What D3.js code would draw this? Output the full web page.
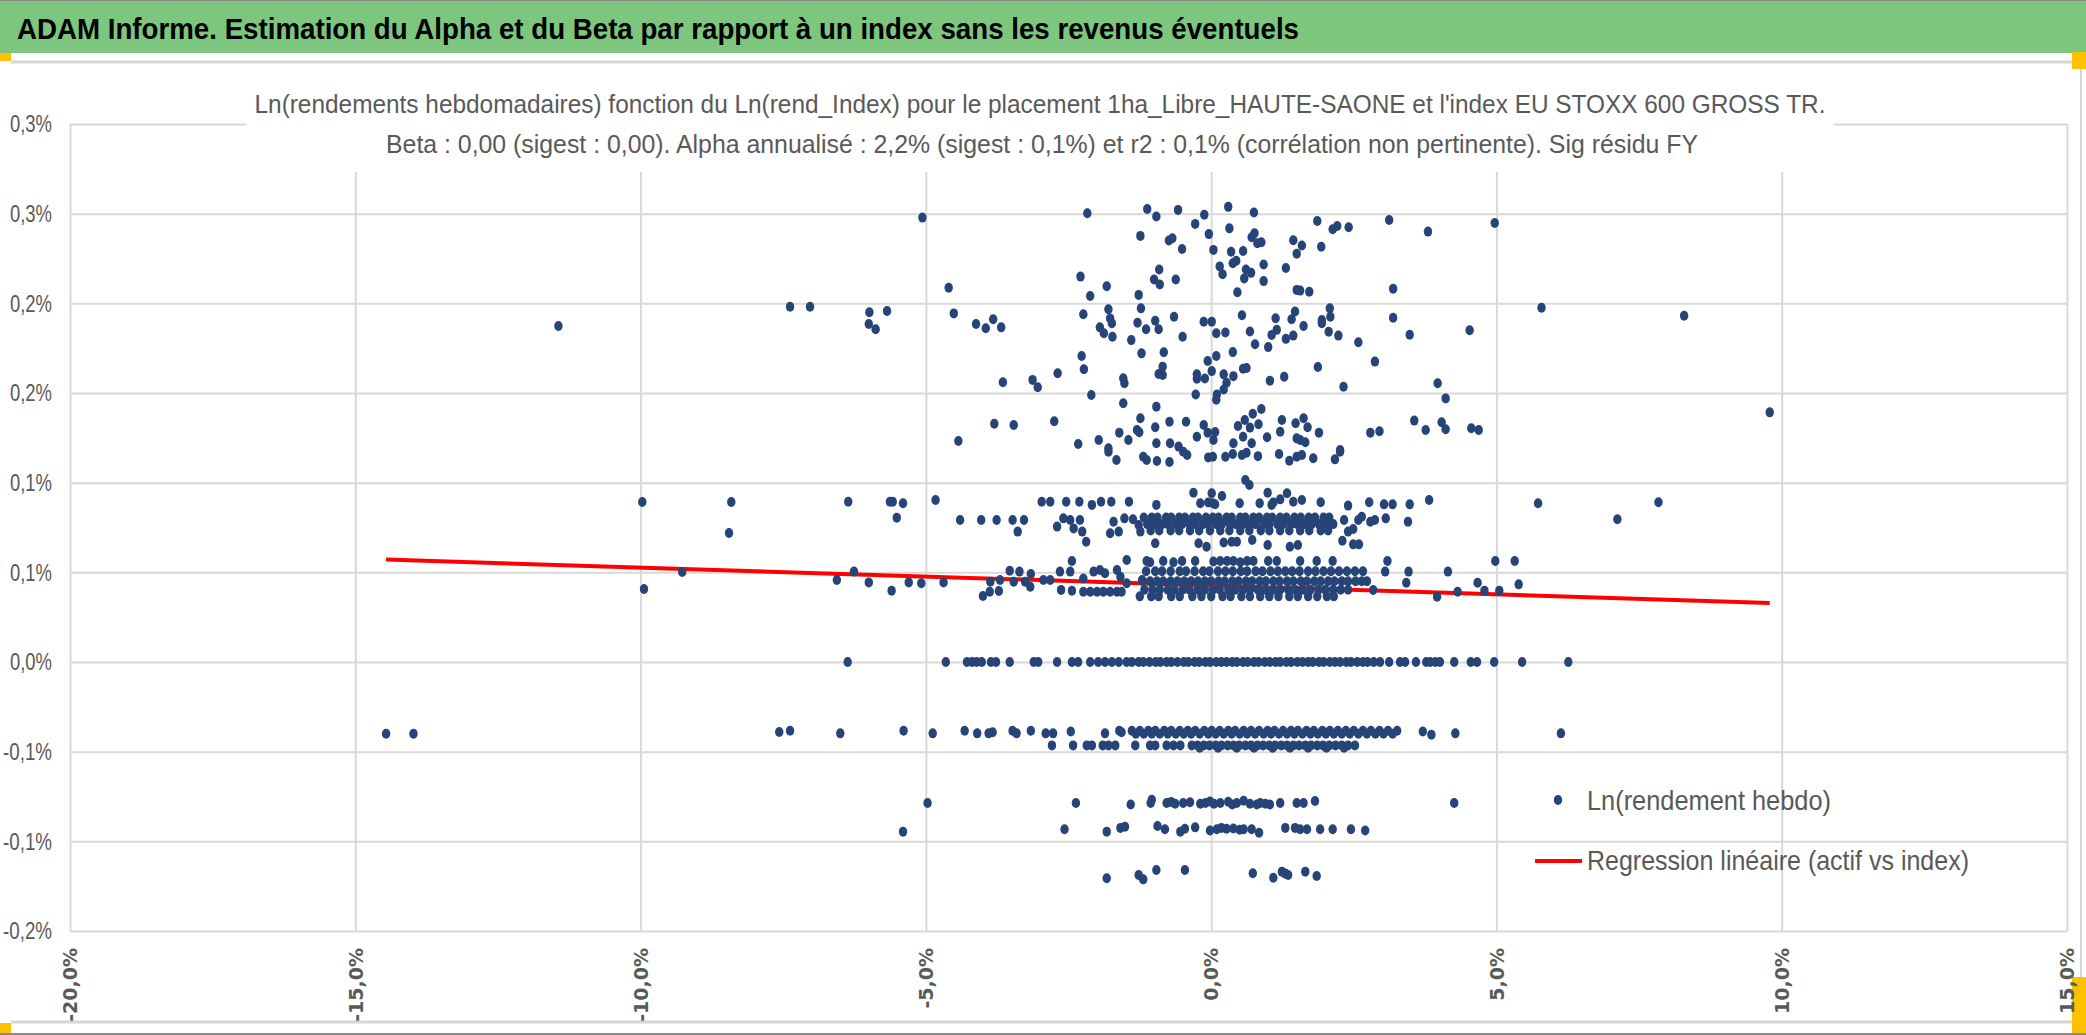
<!DOCTYPE html>
<html>
<head>
<meta charset="utf-8">
<script src="https://cdnjs.cloudflare.com/ajax/libs/d3/7.8.5/d3.min.js"></script>
<style>
  body { margin: 0; background: #fff; }
  svg { display: block; }
</style>
</head>
<body>
<svg id="adam_chart" width="2086" height="1035"></svg>
<script>
// axis ticks (values in %)
const xTickValues = [-20, -15, -10, -5, 0, 5, 10, 15];
const xTickLabels = ["-20,0%", "-15,0%", "-10,0%", "-5,0%", "0,0%", "5,0%", "10,0%", "15,0%"];
const yTickValues = [-0.15, -0.10, -0.05, 0, 0.05, 0.10, 0.15, 0.20, 0.25, 0.30];
const yTickLabels = ["-0,2%", "-0,1%", "-0,1%", "0,0%", "0,1%", "0,1%", "0,2%", "0,2%", "0,3%", "0,3%"];

const headerTitle = "ADAM Informe. Estimation du Alpha et du Beta par rapport à un index sans les revenus éventuels";
const chartTitle1 = "Ln(rendements hebdomadaires) fonction du Ln(rend_Index) pour le placement 1ha_Libre_HAUTE-SAONE et l'index EU STOXX 600 GROSS TR.";
const chartTitle2 = "Beta : 0,00 (sigest : 0,00). Alpha annualisé : 2,2% (sigest : 0,1%) et r2 : 0,1% (corrélation non pertinente). Sig résidu FY";
const legendLabels = ["Ln(rendement hebdo)", "Regression linéaire (actif vs index)"];

// regression line end points [index %, asset %]
const regressionLine = [[-14.46, 0.0571], [9.79, 0.0329]];

// scattered points above 0.1 %
const upperScatter = [
  [-11.44,0.1874],[-7.38,0.1981],[-7.03,0.1981],[-5.06,0.2478],
  [-5.99,0.1950],[-5.68,0.1957],[-6.00,0.1885],[-5.88,0.1855],
  [-4.60,0.2087],[-4.51,0.1944],[-4.12,0.1885],[-3.95,0.1861],[-3.82,0.1911],[-3.68,0.1866],
  [-3.65,0.1560],[-3.13,0.1573],[-3.04,0.1532],[-2.69,0.1610],
  [-3.80,0.1329],[-3.46,0.1322],[-2.75,0.1342],[-4.43,0.1232],
  [-2.17,0.2502],[-2.29,0.2149],[-2.12,0.2041],[-2.24,0.1939],
  [-2.27,0.1706],[-2.23,0.1632],[-2.10,0.1489],[-2.33,0.1216],
  [-1.83,0.2095],[-1.80,0.1967],[-1.77,0.1916],[-1.74,0.1889],[-1.95,0.1866],[-1.88,0.1833],[-1.73,0.1814],
  [-1.12,0.2526],[-0.96,0.2484],[-0.58,0.2521],[-1.24,0.2376],
  [-0.74,0.2350],[-0.68,0.2363],[-0.51,0.2303],
  [-0.28,0.2443],[-0.12,0.2494],[-0.04,0.2386],[0.04,0.2298],
  [0.30,0.2538],[0.32,0.2418],[0.75,0.2507],
  [0.35,0.2288],[0.56,0.2292],[0.71,0.2368],[0.76,0.2391],[0.81,0.2335],[0.88,0.2341],
  [1.44,0.2352],[1.50,0.2277],
  [0.15,0.2206],[0.20,0.2162],[0.38,0.2224],[0.44,0.2237],
  [0.58,0.2139],[0.61,0.2189],[0.70,0.2170],[0.92,0.2217],[0.92,0.2124],[0.46,0.2062],
  [1.31,0.2197],[1.50,0.2075],
  [-0.91,0.2189],[-1.00,0.2133],[-0.90,0.2105],[-0.62,0.2133],
  [-1.27,0.2047],[-1.23,0.1972],[-1.29,0.1892],[-1.14,0.1855],[-0.98,0.1903],[-0.92,0.1855],[-0.65,0.1925],[-0.50,0.1814],[-1.40,0.1795],
  [-1.22,0.1721],[-0.83,0.1727],[-0.85,0.1647],[-0.92,0.1606],[-0.85,0.1600],
  [-0.25,0.1604],[-0.25,0.1579],[-0.11,0.1581],[0.01,0.1622],[-0.06,0.1678],[0.09,0.1706],[0.22,0.1604],[0.27,0.1557],
  [0.39,0.1594],[0.22,0.1520],[0.10,0.1492],[-0.27,0.1492],[0.38,0.1728],[0.56,0.1635],[0.62,0.1639],
  [-0.13,0.1898],[0.01,0.1898],[0.09,0.1833],[0.25,0.1837],[0.54,0.1934],[0.68,0.1843],[0.77,0.1772],[1.00,0.1756],
  [1.06,0.1824],[1.15,0.1852],[1.31,0.1802],[1.44,0.1820],[1.13,0.1917],[1.41,0.1911],[1.47,0.1954],
  [1.03,0.1569],[1.28,0.1591],[-0.96,0.1424],[-1.54,0.1443],[-1.24,0.1359],[-1.54,0.1582],[-1.52,0.1554],
  [0.09,0.1462],[0.73,0.1384],[0.88,0.1411],
  [-1.61,0.1279],[-1.45,0.1238],[-1.30,0.1294],[-1.26,0.1281],[-0.98,0.1309],[-0.73,0.1340],[-0.44,0.1340],[-0.13,0.1322],
  [-0.06,0.1279],[0.07,0.1283],[0.47,0.1316],[0.59,0.1349],[0.68,0.1307],[0.83,0.1326],[0.98,0.1253],[1.24,0.1349],
  [1.21,0.1284],[1.48,0.1331],[-1.97,0.1238],[-1.80,0.1192],[-0.96,0.1220],[-0.72,0.1220],[-0.57,0.1201],[-0.25,0.1256],
  [0.04,0.1238],[0.39,0.1220],[0.56,0.1256],[0.71,0.1220],[1.50,0.1247],
  [1.86,0.2459],[2.13,0.2413],[2.21,0.2431],[2.41,0.2424],[3.12,0.2465],[3.80,0.2400],[4.97,0.2448],
  [1.59,0.2322],[1.93,0.2316],[1.56,0.2071],[1.72,0.2065],[3.19,0.2082],
  [2.08,0.1972],[2.09,0.1925],[1.94,0.1907],[1.94,0.1889],[1.62,0.1874],[2.06,0.1842],[2.23,0.1820],
  [3.19,0.1920],[2.58,0.1783],[3.48,0.1825],[4.53,0.1850],[5.79,0.1975],[8.29,0.1931],[9.79,0.1392],
  [1.87,0.1645],[2.87,0.1675],[2.32,0.1535],[3.97,0.1554],[4.11,0.1470],
  [1.62,0.1359],[1.69,0.1309],[1.89,0.1279],[2.79,0.1279],[2.95,0.1287],[3.56,0.1346],[3.76,0.1294],[4.04,0.1337],
  [4.11,0.1298],[4.56,0.1303],[4.69,0.1294],[1.56,0.1238],[1.65,0.1225],[2.26,0.1182],
  [-1.80,0.1173],[-1.66,0.1126],[-1.19,0.1145],[-1.13,0.1126],[-0.95,0.1121],[-0.73,0.1115],[-0.49,0.1173],[-0.42,0.1154],
  [-0.05,0.1141],[0.03,0.1145],[0.25,0.1145],[0.38,0.1160],[0.54,0.1154],[0.62,0.1167],[0.82,0.1148],[1.19,0.1160],
  [1.37,0.1122],[1.50,0.1145],[1.79,0.1136],[2.17,0.1130],[2.26,0.1173],[1.59,0.1154],
  [0.60,0.1015],[0.67,0.0987]
];

// points around 0.09 %
const band09Scatter = [
  [-9.97,0.0892],[-8.41,0.0892],[-8.45,0.0719],
  [-6.36,0.0894],[-5.63,0.0894],[-5.58,0.0894],[-5.40,0.0885],[-4.83,0.0903],[-5.51,0.0805],
  [-2.97,0.0894],[-2.82,0.0894],[-2.54,0.0894],[-2.31,0.0894],[-2.09,0.0876],[-1.93,0.0894],[-1.75,0.0894],
  [-1.44,0.0894],[-0.96,0.0876],[-0.31,0.0944],[-0.19,0.0885],[-0.05,0.0890],[0.01,0.0941],[0.03,0.0885],[0.07,0.0880],
  [0.19,0.0926],[0.50,0.0885],[0.85,0.0885],[0.99,0.0944],[1.06,0.0876],[1.09,0.0890],[1.21,0.0907],[1.33,0.0941],[1.44,0.0894],
  [1.59,0.0903],[1.92,0.0891],[2.40,0.0872],[2.77,0.0891],[3.03,0.0879],[3.18,0.0879],[3.48,0.0879],[3.82,0.0903],
  [5.73,0.0885],[7.84,0.0891],[7.12,0.0796]
];

// sparse points of the 0.08 % band
const band08Scatter = [
  [-4.40,0.0792],[-4.03,0.0792],[-3.76,0.0792],[-3.48,0.0792],[-3.28,0.0792],[-3.39,0.0727],
  [-2.70,0.0755],[-2.59,0.0801],[-2.47,0.0792],[-2.41,0.0745],[-2.30,0.0792],[-2.26,0.0727],[-2.19,0.0671],
  [-1.77,0.0718],[-1.71,0.0782],[-1.62,0.0727],[-1.52,0.0801],[-1.37,0.0796],[-1.27,0.0764],[-1.24,0.0727],
  [2.33,0.0792],[2.40,0.0727],[2.49,0.0742],[2.58,0.0792],[2.64,0.0810],[2.79,0.0782],[2.87,0.0792],[3.06,0.0801],[3.45,0.0782]
];
// dense 0.08 % band, three sub rows
const band08aX = [-1.18,-1.04,-0.94,-0.79,-0.70,-0.56,-0.46,-0.32,-0.23,-0.09,0.03,0.13,0.27,0.36,0.51,0.60,0.74,0.84,0.98,1.07,1.21,1.32,1.46,1.57,1.71,1.82,1.97,2.07];
const band08bX = [-1.12,-0.99,-0.86,-0.76,-0.62,-0.51,-0.38,-0.28,-0.14,-0.04,0.09,0.19,0.33,0.43,0.56,0.68,0.78,0.92,1.02,1.16,1.26,1.40,1.51,1.64,1.76,1.89,2.02,2.14];
const band08cX = [-1.06,-0.91,-0.71,-0.56,-0.37,-0.21,-0.02,0.16,0.32,0.51,0.67,0.87,1.02,1.21,1.37,1.56,1.72,1.92,2.05];

// rows near 0.066 % and 0.056 %
const row066 = [[-0.98,0.0662],[-0.22,0.0662],[-0.08,0.0643],[0.22,0.0666],[0.36,0.0671],[0.45,0.0671],[0.72,0.0680],[0.99,0.0652],
  [1.38,0.0643],[1.52,0.0652],[2.30,0.0676],[2.49,0.0656],[2.59,0.0656]];
const row056 = [[-2.44,0.0563],[-1.48,0.0569],[-1.13,0.0563],[-1.07,0.0556],[-0.84,0.0563],[-0.66,0.0556],[-0.51,0.0563],[-0.28,0.0563],
  [0.04,0.0560],[0.16,0.0563],[0.28,0.0563],[0.39,0.0563],[0.51,0.0556],[0.63,0.0563],[0.74,0.0563],[1.00,0.0563],[1.15,0.0563],
  [1.56,0.0563],[1.85,0.0563],[2.13,0.0563],[3.09,0.0563],[4.98,0.0563],[5.32,0.0563]];

// sparse points of the 0.05 % band
const band05Scatter = [
  [-9.27,0.0502],[-9.94,0.0407],[-6.56,0.0457],[-6.26,0.0504],[-6.00,0.0444],[-5.60,0.0398],[-5.30,0.0444],[-5.08,0.0439],[-4.69,0.0444],
  [-4.00,0.0368],[-3.88,0.0392],[-3.72,0.0396],[-3.87,0.0448],[-3.70,0.0457],[-3.53,0.0509],[-3.46,0.0448],[-3.36,0.0504],
  [-3.26,0.0448],[-3.16,0.0491],[-3.17,0.0420],[-2.94,0.0457],[-2.82,0.0457],[-2.65,0.0504],[-2.63,0.0402],[-2.47,0.0504],
  [-2.44,0.0398],[-2.24,0.0466],[-2.06,0.0504],[-1.95,0.0513],[-1.86,0.0495],[-1.65,0.0513],[-1.59,0.0476],[-1.48,0.0439],
  [-1.21,0.0457],[-2.24,0.0392],[-2.12,0.0392],[-2.00,0.0392],[-1.89,0.0392],[-1.77,0.0392],[-1.65,0.0392],[-1.57,0.0392],
  [2.84,0.0401],[3.05,0.0504],[3.42,0.0442],[3.46,0.0504],[3.96,0.0364],[4.15,0.0504],[4.32,0.0392],[4.67,0.0442],
  [4.79,0.0398],[5.05,0.0398],[5.39,0.0433]
];
// dense 0.05 % band, four sub rows
const band05aX = [-1.14,-0.98,-0.86,-0.71,-0.55,-0.44,-0.29,-0.14,-0.03,0.12,0.25,0.38,0.52,0.63,0.78,0.90,1.04,1.17,1.30,1.42,1.55,1.70,1.83,1.97,2.10,2.24,2.38,2.52,2.66];
const band05bX = [-1.20,-1.07,-0.95,-0.84,-0.71,-0.59,-0.47,-0.35,-0.23,-0.11,0.00,0.13,0.24,0.37,0.48,0.61,0.72,0.85,0.96,1.09,1.20,1.33,1.44,1.57,1.68,1.81,1.92,2.05,2.16,2.29,2.40,2.53,2.64,2.73];
const band05cX = [-1.17,-1.03,-0.90,-0.76,-0.64,-0.50,-0.38,-0.24,-0.11,0.03,0.15,0.30,0.42,0.56,0.68,0.82,0.95,1.09,1.21,1.35,1.47,1.61,1.74,1.88,2.00,2.14,2.27,2.40];
const band05dX = [-1.25,-1.05,-0.92,-0.70,-0.55,-0.33,-0.17,0.00,0.20,0.34,0.53,0.68,0.86,1.02,1.18,1.37,1.52,1.70,1.86,2.03,2.15];

// row at 0 %
const row0X = [-6.37,-4.65,-4.28,-4.19,-4.11,-4.02,-3.86,-3.77,-3.53,-3.11,-3.03,-2.70,-2.44,-2.33,-2.12,-1.98,-1.86,-1.74,-1.62,
  -1.48,-1.39,-1.27,-1.19,-1.08,-0.97,-0.89,-0.78,-0.70,-0.59,-0.48,-0.40,-0.29,-0.21,-0.10,-0.02,0.09,0.18,0.27,0.37,0.45,
  0.56,0.64,0.75,0.83,0.94,1.03,1.13,1.21,1.32,1.40,1.51,1.60,1.70,1.78,1.89,1.97,2.08,2.17,2.26,2.37,2.45,2.56,2.66,2.74,
  2.85,2.96,3.12,3.31,3.40,3.59,3.77,3.84,3.93,4.01,4.26,4.55,4.66,4.96,5.45,6.26];

// rows near -0.04 %
const rowM04Scatter = [[-14.46,-0.0400],[-13.98,-0.0400],[-7.57,-0.0390],[-7.38,-0.0383],[-6.50,-0.0398],[-5.39,-0.0383],[-4.88,-0.0398],
  [-4.32,-0.0383],[-4.10,-0.0398],[-3.90,-0.0398],[-3.83,-0.0392],[-3.48,-0.0383],[-3.41,-0.0398],[-3.16,-0.0383],[-2.90,-0.0398],
  [-2.77,-0.0398],[-2.46,-0.0388],[-1.86,-0.0398],[-1.61,-0.0383],[-1.57,-0.0392],[3.71,-0.0388],[3.86,-0.0405],[4.28,-0.0398],[6.13,-0.0398]];
const rowM038X = [-1.39,-1.25,-1.10,-0.98,-0.82,-0.70,-0.55,-0.41,-0.28,-0.12,0.01,0.15,0.30,0.42,0.57,0.70,0.84,0.99,1.11,1.26,1.40,1.52,1.67,1.80,1.95,2.08,2.22,2.36,2.50,2.66,2.80,2.95,3.10,3.26];
const rowM040X = [-1.32,-1.18,-1.04,-0.90,-0.76,-0.62,-0.48,-0.35,-0.20,-0.05,0.08,0.22,0.36,0.50,0.63,0.77,0.92,1.05,1.19,1.33,1.46,1.60,1.74,1.87,2.01,2.15,2.29,2.43,2.58,2.73,2.88,3.02,3.18];
const rowM046X = [-2.79,-2.42,-2.18,-2.09,-1.90,-1.80,-1.68,-1.33,-1.07,-0.98,-0.78,-0.66,-0.54,
  -0.34,-0.24,-0.13,-0.03,0.08,0.18,0.29,0.39,0.49,0.60,0.70,0.81,0.91,1.02,1.12,1.23,1.33,1.44,1.54,1.65,1.75,1.86,1.96,2.07,2.18,2.29,2.40,2.52];
const rowM048X = [-0.20,0.12,0.45,0.75,1.08,1.38,1.70,2.02,2.33];

// rows near -0.08 %, -0.09 % and -0.12 %
const rowM079 = [[-4.97,-0.0786],[-2.37,-0.0786],[-1.41,-0.0795],[-1.06,-0.0786],[-1.04,-0.0768],[-0.78,-0.0786],[-0.70,-0.0780],
  [-0.63,-0.0790],[-0.49,-0.0786],[-0.37,-0.0782],[-0.19,-0.0790],[-0.10,-0.0786],[-0.02,-0.0778],[0.05,-0.0790],[0.16,-0.0786],
  [0.30,-0.0779],[0.37,-0.0795],[0.45,-0.0786],[0.57,-0.0774],[0.68,-0.0790],[0.80,-0.0795],[0.86,-0.0786],[0.95,-0.0790],
  [1.03,-0.0795],[1.21,-0.0786],[1.50,-0.0786],[1.62,-0.0786],[1.82,-0.0775],[4.26,-0.0786]];
const rowM093 = [[-5.40,-0.0946],[-2.57,-0.0933],[-1.83,-0.0946],[-1.59,-0.0925],[-1.51,-0.0918],[-0.94,-0.0914],[-0.81,-0.0933],
  [-0.54,-0.0946],[-0.46,-0.0930],[-0.28,-0.0922],[-0.02,-0.0940],[0.10,-0.0933],[0.18,-0.0925],[0.27,-0.0930],[0.39,-0.0928],
  [0.50,-0.0935],[0.57,-0.0933],[0.71,-0.0933],[0.84,-0.0952],[1.30,-0.0925],[1.47,-0.0925],[1.56,-0.0933],[1.68,-0.0933],
  [1.91,-0.0933],[2.13,-0.0933],[2.45,-0.0933],[2.70,-0.0940]];
const rowM12 = [[-1.83,-0.1206],[-1.27,-0.1188],[-1.19,-0.1212],[-0.96,-0.1160],[-0.46,-0.1160],[0.73,-0.1178],[1.09,-0.1203],
  [1.24,-0.1169],[1.30,-0.1180],[1.35,-0.1188],[1.65,-0.1169],[1.85,-0.1193]];

let adam_svg;
let adam_width;
let adam_height;
let adam_margin;
let adam_innerWidth;
let adam_innerHeight;

document.addEventListener('DOMContentLoaded', function() {
    adam_svg = d3.select('#adam_chart');
    adam_width = +adam_svg.attr('width');
    adam_height = +adam_svg.attr('height');
    adam_margin = { top: 124, bottom: 104, left: 70, right: 19 };
    adam_innerWidth = adam_width - adam_margin.left - adam_margin.right;
    adam_innerHeight = adam_height - adam_margin.top - adam_margin.bottom;

    draw_frame();
    draw_adam_chart();
});

function draw_frame() {
    // green header band
    adam_svg.append('rect').attr('x', 0).attr('y', 0).attr('width', adam_width).attr('height', 53).attr('fill', '#7dc67d');
    adam_svg.append('line').attr('x1', 0).attr('x2', adam_width).attr('y1', 0.5).attr('y2', 0.5).attr('stroke', '#8a8a8a');
    adam_svg.append('text')
        .attr('x', 17).attr('y', 39)
        .attr('font-family', '"Liberation Sans Narrow", "Liberation Sans", Arial, sans-serif')
        .attr('font-weight', 'bold').attr('font-size', 30).attr('fill', '#000')
        .attr('textLength', 1282).attr('lengthAdjust', 'spacingAndGlyphs')
        .text(headerTitle);

    // chart box borders
    adam_svg.append('line').attr('x1', 11).attr('x2', 2081).attr('y1', 62).attr('y2', 62).attr('stroke', '#d6d6d6').attr('stroke-width', 3);
    adam_svg.append('line').attr('x1', 2081).attr('x2', 2081).attr('y1', 62).attr('y2', 1022).attr('stroke', '#d6d6d6').attr('stroke-width', 2);
    adam_svg.append('line').attr('x1', 11).attr('x2', 2081).attr('y1', 1022).attr('y2', 1022).attr('stroke', '#d6d6d6').attr('stroke-width', 3);
    adam_svg.append('line').attr('x1', 0).attr('x2', adam_width).attr('y1', 1034).attr('y2', 1034).attr('stroke', '#8a8a8a').attr('stroke-width', 2);

    // selection handles
    const handles = [[0, 53, 11, 8], [0, 1023, 11, 10], [2072, 52, 14, 17], [2072, 977, 14, 56]];
    adam_svg.selectAll('rect.handle')
        .data(handles).enter().append('rect')
        .attr('class', 'handle')
        .attr('x', d => d[0]).attr('y', d => d[1])
        .attr('width', d => d[2]).attr('height', d => d[3])
        .attr('fill', '#ffc000');
}

function draw_adam_chart() {
    const xScale = d3.scaleLinear()
        .domain([-20, 15])
        .range([0, adam_innerWidth]);
    const yScale = d3.scaleLinear()
        .domain([-0.15, 0.30])
        .range([adam_innerHeight, 0]);

    const g = adam_svg.append('g')
        .attr('transform', 'translate(' + adam_margin.left + ', ' + adam_margin.top + ')');

    // vertical grid + rotated labels
    const xAxis = d3.axisBottom(xScale)
        .tickValues(xTickValues)
        .tickFormat((d, i) => xTickLabels[i])
        .tickSize(-adam_innerHeight);
    const gx = g.append('g').attr('transform', `translate(0,${adam_innerHeight})`).call(xAxis);
    gx.select('.domain').remove();
    gx.selectAll('line').attr('stroke', '#d9d9d9').attr('stroke-width', 2);
    gx.selectAll('text')
        .attr('font-family', '"DejaVu Sans", Verdana, sans-serif')
        .attr('font-weight', 'bold')
        .attr('font-size', 19)
        .attr('fill', '#595959')
        .attr('text-anchor', 'end')
        .attr('transform', 'rotate(-90)')
        .attr('x', -17)
        .attr('y', 0)
        .attr('dy', '0.36em');

    // horizontal grid + labels
    const yAxis = d3.axisLeft(yScale)
        .tickValues(yTickValues)
        .tickFormat((d, i) => yTickLabels[i])
        .tickSize(-adam_innerWidth)
        .tickPadding(18);
    const gy = g.append('g').call(yAxis);
    gy.select('.domain').remove();
    gy.selectAll('line').attr('stroke', '#d9d9d9').attr('stroke-width', 2);
    gy.selectAll('text')
        .attr('font-family', '"Liberation Sans Narrow", "Liberation Sans", Arial, sans-serif')
        .attr('font-size', 24)
        .attr('fill', '#595959')
        .attr('textLength', d => d < 0 ? 49 : 42)
        .attr('lengthAdjust', 'spacingAndGlyphs');

    // chart title box hides the top of the grid
    adam_svg.append('rect')
        .attr('x', 246).attr('y', 64).attr('width', 1588).attr('height', 108)
        .attr('fill', '#fff');
    adam_svg.append('text')
        .attr('x', 1040).attr('y', 113)
        .attr('text-anchor', 'middle')
        .attr('font-family', '"Liberation Sans Narrow", "Liberation Sans", Arial, sans-serif')
        .attr('font-size', 26).attr('fill', '#595959')
        .attr('textLength', 1571).attr('lengthAdjust', 'spacingAndGlyphs')
        .text(chartTitle1);
    adam_svg.append('text')
        .attr('x', 1042).attr('y', 153)
        .attr('text-anchor', 'middle')
        .attr('font-family', '"Liberation Sans Narrow", "Liberation Sans", Arial, sans-serif')
        .attr('font-size', 26).attr('fill', '#595959')
        .attr('textLength', 1312).attr('lengthAdjust', 'spacingAndGlyphs')
        .text(chartTitle2);

    // regression line
    const line = d3.line()
        .x(d => xScale(d[0]))
        .y(d => yScale(d[1]));
    g.append('path')
        .datum(regressionLine)
        .attr('d', line)
        .attr('fill', 'none')
        .attr('stroke', '#ff0000')
        .attr('stroke-width', 4);

    // all scatter points
    const points = [].concat(
        upperScatter, band09Scatter, band08Scatter,
        band08aX.map(x => [x, 0.0806]), band08bX.map(x => [x, 0.0769]), band08cX.map(x => [x, 0.0733]),
        row066, row056, band05Scatter,
        band05aX.map(x => [x, 0.0506]), band05bX.map(x => [x, 0.0450]), band05cX.map(x => [x, 0.0403]), band05dX.map(x => [x, 0.0366]),
        row0X.map(x => [x, 0]),
        rowM04Scatter, rowM038X.map(x => [x, -0.0383]), rowM040X.map(x => [x, -0.0400]),
        rowM046X.map(x => [x, -0.0465]), rowM048X.map(x => [x, -0.0478]),
        rowM079, rowM093, rowM12
    );

    g.selectAll('ellipse.pt')
        .data(points)
        .enter()
        .append('ellipse')
        .attr('class', 'pt')
        .attr('cx', d => xScale(d[0]))
        .attr('cy', d => yScale(d[1]))
        .attr('rx', 4.2)
        .attr('ry', 5)
        .attr('fill', '#264478');

    // legend
    const legend = adam_svg.append('g');
    legend.append('ellipse').attr('cx', 1558).attr('cy', 800).attr('rx', 4.2).attr('ry', 5).attr('fill', '#264478');
    legend.append('line').attr('x1', 1535).attr('x2', 1582).attr('y1', 861).attr('y2', 861)
        .attr('stroke', '#ff0000').attr('stroke-width', 4);
    legend.selectAll('text')
        .data(legendLabels)
        .enter()
        .append('text')
        .attr('x', 1587)
        .attr('y', (d, i) => i === 0 ? 810 : 870)
        .attr('font-family', '"Liberation Sans Narrow", "Liberation Sans", Arial, sans-serif')
        .attr('font-size', 28)
        .attr('fill', '#595959')
        .attr('textLength', (d, i) => i === 0 ? 244 : 382)
        .attr('lengthAdjust', 'spacingAndGlyphs')
        .text(d => d);
}
</script>
</body>
</html>
